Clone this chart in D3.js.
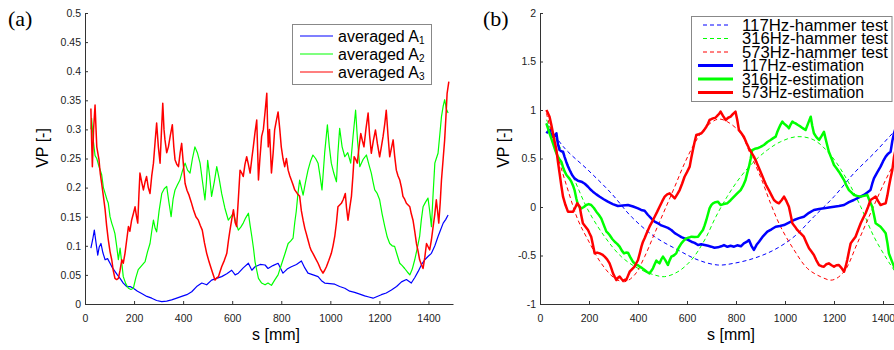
<!DOCTYPE html>
<html>
<head>
<meta charset="utf-8">
<script src="https://cdn.jsdelivr.net/npm/d3@7"></script>
<style>
  body { margin: 0; background: #fff; }
  svg { display: block; font-family: "Liberation Sans", Arial, sans-serif; }
</style>
</head>
<body>
<div id="chart"></div>
<script>
// panel (a) - averaged VP, [s mm, VP]
const avgA1 = [[24,0.096],[31,0.11],[38,0.127],[45,0.105],[52,0.084],[58,0.098],[65,0.104],[73,0.088],[82,0.076],[92,0.078],[102,0.07],[112,0.062],[122,0.056],[132,0.05],[143,0.044],[156,0.036],[170,0.03],[184,0.03],[197,0.027],[214,0.022],[231,0.018],[252,0.013],[272,0.01],[292,0.006],[313,0.004],[333,0.005],[353,0.007],[374,0.01],[394,0.013],[415,0.016],[435,0.021],[455,0.03],[476,0.036],[496,0.033],[516,0.041],[536,0.044],[557,0.047],[578,0.052],[598,0.058],[612,0.05],[625,0.053],[645,0.062],[666,0.07],[680,0.058],[693,0.064],[714,0.068],[734,0.067],[746,0.061],[766,0.066],[787,0.07],[807,0.053],[824,0.06],[841,0.064],[862,0.068],[882,0.074],[896,0.062],[909,0.053],[930,0.05],[950,0.047],[964,0.04],[977,0.036],[998,0.035],[1018,0.034],[1038,0.03],[1059,0.027],[1079,0.022],[1099,0.02],[1120,0.017],[1140,0.014],[1157,0.012],[1174,0.01],[1191,0.013],[1208,0.016],[1228,0.019],[1249,0.024],[1270,0.03],[1290,0.038],[1310,0.042],[1330,0.036],[1345,0.046],[1358,0.056],[1372,0.068],[1385,0.076],[1399,0.082],[1412,0.087],[1426,0.1],[1439,0.116],[1450,0.128],[1460,0.139],[1470,0.145],[1480,0.153]];
const avgA2 = [[24,0.3],[27,0.319],[34,0.28],[41,0.255],[48,0.25],[58,0.235],[68,0.222],[75,0.2],[82,0.19],[89,0.18],[95,0.173],[102,0.15],[109,0.139],[116,0.13],[122,0.121],[129,0.1],[136,0.076],[143,0.096],[150,0.07],[156,0.047],[166,0.035],[177,0.027],[187,0.025],[197,0.027],[207,0.045],[217,0.059],[231,0.066],[245,0.073],[255,0.09],[265,0.104],[272,0.125],[279,0.144],[286,0.13],[292,0.124],[302,0.16],[313,0.19],[323,0.198],[333,0.202],[342,0.175],[351,0.15],[359,0.18],[367,0.196],[377,0.205],[387,0.213],[398,0.23],[408,0.242],[418,0.23],[428,0.225],[438,0.25],[448,0.27],[458,0.26],[469,0.242],[479,0.21],[489,0.179],[495,0.21],[500,0.247],[508,0.22],[516,0.185],[527,0.21],[537,0.236],[547,0.215],[557,0.19],[570,0.165],[584,0.144],[595,0.15],[605,0.156],[615,0.14],[625,0.127],[635,0.132],[645,0.139],[655,0.148],[666,0.156],[673,0.135],[680,0.116],[687,0.095],[693,0.073],[700,0.058],[707,0.044],[720,0.036],[734,0.033],[746,0.036],[760,0.032],[773,0.041],[787,0.05],[800,0.067],[814,0.085],[828,0.104],[838,0.108],[848,0.113],[855,0.14],[861,0.159],[868,0.19],[875,0.213],[882,0.2],[889,0.187],[899,0.21],[909,0.23],[919,0.245],[929,0.256],[940,0.25],[950,0.242],[958,0.22],[966,0.196],[977,0.26],[988,0.308],[996,0.27],[1004,0.242],[1014,0.225],[1025,0.21],[1031,0.26],[1038,0.302],[1048,0.27],[1059,0.253],[1071,0.26],[1083,0.242],[1093,0.29],[1103,0.333],[1111,0.28],[1120,0.236],[1133,0.248],[1147,0.256],[1157,0.24],[1167,0.225],[1174,0.21],[1181,0.196],[1191,0.19],[1201,0.179],[1211,0.155],[1222,0.133],[1232,0.115],[1242,0.104],[1252,0.1],[1262,0.099],[1272,0.085],[1283,0.07],[1293,0.066],[1303,0.061],[1314,0.055],[1324,0.05],[1334,0.06],[1344,0.076],[1354,0.095],[1364,0.116],[1371,0.145],[1378,0.167],[1388,0.175],[1398,0.182],[1405,0.16],[1412,0.133],[1419,0.19],[1426,0.242],[1432,0.25],[1439,0.259],[1446,0.29],[1453,0.322],[1460,0.34],[1466,0.351],[1473,0.335],[1480,0.328]];
const avgA3 = [[24,0.336],[27,0.28],[30,0.236],[35,0.3],[41,0.342],[45,0.3],[48,0.27],[52,0.26],[57,0.248],[62,0.225],[68,0.207],[75,0.185],[82,0.162],[88,0.135],[95,0.11],[102,0.09],[109,0.076],[115,0.058],[122,0.044],[129,0.042],[136,0.044],[143,0.058],[150,0.076],[156,0.07],[163,0.087],[170,0.11],[177,0.133],[183,0.125],[190,0.144],[197,0.155],[204,0.167],[210,0.15],[215,0.139],[220,0.19],[224,0.225],[231,0.21],[238,0.196],[245,0.21],[251,0.219],[258,0.2],[265,0.19],[272,0.22],[279,0.242],[286,0.28],[292,0.311],[299,0.27],[306,0.242],[312,0.3],[317,0.345],[322,0.3],[326,0.282],[333,0.26],[340,0.27],[348,0.29],[356,0.308],[362,0.27],[367,0.248],[374,0.24],[381,0.236],[388,0.26],[394,0.276],[401,0.24],[408,0.207],[416,0.195],[424,0.187],[433,0.175],[442,0.162],[452,0.15],[462,0.144],[470,0.135],[478,0.127],[487,0.105],[496,0.087],[506,0.072],[516,0.059],[523,0.05],[530,0.041],[537,0.045],[544,0.047],[550,0.055],[557,0.064],[568,0.075],[578,0.087],[585,0.11],[591,0.127],[598,0.145],[605,0.162],[612,0.14],[618,0.133],[625,0.18],[632,0.23],[639,0.225],[645,0.219],[652,0.24],[659,0.253],[666,0.24],[673,0.225],[680,0.25],[686,0.27],[693,0.295],[700,0.316],[704,0.26],[707,0.213],[713,0.25],[720,0.288],[727,0.3],[734,0.33],[741,0.362],[744,0.31],[747,0.27],[752,0.3],[760,0.225],[767,0.26],[773,0.299],[780,0.315],[787,0.33],[794,0.3],[800,0.27],[807,0.25],[814,0.236],[821,0.25],[828,0.23],[835,0.22],[841,0.213],[848,0.205],[855,0.196],[865,0.19],[875,0.185],[882,0.16],[889,0.144],[896,0.13],[902,0.121],[909,0.11],[916,0.099],[922,0.092],[929,0.087],[940,0.078],[950,0.07],[960,0.06],[970,0.053],[977,0.058],[984,0.064],[994,0.075],[1004,0.087],[1011,0.1],[1018,0.116],[1025,0.14],[1031,0.167],[1038,0.17],[1045,0.173],[1053,0.18],[1061,0.19],[1066,0.165],[1072,0.144],[1079,0.165],[1086,0.185],[1092,0.22],[1097,0.253],[1104,0.248],[1110,0.242],[1117,0.27],[1124,0.293],[1131,0.28],[1137,0.27],[1145,0.3],[1154,0.328],[1160,0.29],[1167,0.259],[1175,0.28],[1184,0.299],[1192,0.275],[1201,0.253],[1208,0.27],[1215,0.288],[1222,0.31],[1228,0.333],[1235,0.29],[1242,0.253],[1249,0.268],[1256,0.282],[1262,0.255],[1269,0.23],[1276,0.22],[1283,0.213],[1290,0.2],[1296,0.185],[1303,0.18],[1310,0.173],[1317,0.17],[1324,0.167],[1330,0.155],[1337,0.144],[1344,0.125],[1351,0.104],[1358,0.09],[1364,0.076],[1371,0.068],[1378,0.061],[1385,0.08],[1392,0.104],[1399,0.098],[1405,0.093],[1412,0.11],[1419,0.133],[1426,0.155],[1432,0.179],[1437,0.16],[1442,0.139],[1448,0.175],[1453,0.213],[1460,0.25],[1466,0.282],[1471,0.32],[1476,0.362],[1483,0.382]];

// panel (b) - hammer test (dashed) and estimation (solid)
const hammer117 = [[26,0.862],[101,0.605],[196,0.381],[291,0.141],[373,-0.1],[468,-0.306],[563,-0.443],[645,-0.546],[726,-0.598],[792,-0.58],[873,-0.529],[955,-0.443],[1037,-0.306],[1118,-0.1],[1200,0.107],[1281,0.347],[1363,0.553],[1445,0.776],[1470,0.84]];
const hammer316 = [[26,0.9],[87,0.587],[141,0.278],[196,-0.031],[264,-0.306],[332,-0.512],[400,-0.632],[468,-0.701],[509,-0.718],[563,-0.667],[618,-0.546],[672,-0.34],[718,-0.1],[764,0.107],[819,0.312],[873,0.467],[928,0.587],[982,0.673],[1050,0.725],[1118,0.691],[1186,0.536],[1254,0.278],[1309,0.003],[1363,-0.306],[1418,-0.546],[1445,-0.65],[1470,-0.76]];
const hammer573 = [[26,0.966],[73,0.519],[114,0.175],[155,-0.134],[196,-0.34],[250,-0.581],[305,-0.735],[346,-0.77],[386,-0.701],[427,-0.512],[468,-0.271],[509,-0.031],[550,0.209],[590,0.45],[631,0.656],[672,0.811],[726,0.905],[764,0.88],[819,0.76],[860,0.536],[900,0.312],[941,0.038],[982,-0.203],[1037,-0.443],[1091,-0.632],[1145,-0.718],[1193,-0.753],[1241,-0.667],[1295,-0.375],[1349,-0.065],[1404,0.244],[1445,0.45],[1470,0.57]];
const est117 = [[26,0.76],[33,0.78],[39,0.794],[46,0.74],[53,0.725],[60,0.74],[67,0.76],[73,0.65],[80,0.587],[87,0.575],[94,0.57],[100,0.52],[107,0.467],[114,0.42],[121,0.381],[131,0.33],[141,0.295],[155,0.27],[169,0.261],[183,0.24],[196,0.209],[206,0.18],[216,0.158],[230,0.13],[244,0.106],[260,0.08],[277,0.055],[297,0.03],[318,0.01],[338,0.015],[359,0.021],[380,0.005],[400,-0.014],[413,-0.03],[427,-0.038],[440,-0.08],[454,-0.117],[468,-0.15],[482,-0.168],[495,-0.19],[509,-0.203],[522,-0.215],[536,-0.237],[550,-0.27],[563,-0.289],[577,-0.31],[590,-0.323],[604,-0.34],[618,-0.358],[631,-0.37],[645,-0.392],[658,-0.385],[672,-0.392],[686,-0.4],[699,-0.409],[712,-0.42],[726,-0.416],[740,-0.405],[751,-0.392],[765,-0.41],[778,-0.4],[792,-0.409],[805,-0.395],[820,-0.405],[832,-0.375],[843,-0.36],[853,-0.34],[863,-0.4],[873,-0.443],[884,-0.39],[894,-0.358],[911,-0.3],[928,-0.254],[945,-0.23],[962,-0.203],[979,-0.195],[996,-0.186],[1016,-0.16],[1037,-0.134],[1057,-0.115],[1077,-0.1],[1098,-0.06],[1118,-0.031],[1139,-0.02],[1159,-0.014],[1179,-0.005],[1200,0.003],[1220,0.01],[1241,0.021],[1261,0.05],[1281,0.072],[1302,0.1],[1322,0.124],[1336,0.15],[1349,0.175],[1356,0.24],[1363,0.295],[1377,0.36],[1390,0.416],[1400,0.47],[1411,0.519],[1421,0.55],[1431,0.57],[1438,0.68],[1445,0.76],[1452,0.82]];
const est316 = [[26,0.862],[39,0.76],[53,0.656],[63,0.58],[73,0.519],[80,0.49],[87,0.467],[94,0.41],[101,0.364],[108,0.33],[114,0.312],[121,0.29],[128,0.261],[135,0.22],[141,0.175],[148,0.09],[155,0.021],[162,0],[169,-0.014],[179,0],[189,0.021],[199,0.03],[209,0.021],[220,-0.01],[230,-0.048],[240,-0.08],[250,-0.117],[261,-0.19],[271,-0.254],[278,-0.27],[284,-0.289],[295,-0.33],[305,-0.358],[315,-0.38],[325,-0.409],[334,-0.45],[343,-0.478],[351,-0.47],[359,-0.471],[369,-0.52],[379,-0.564],[386,-0.58],[393,-0.598],[400,-0.6],[407,-0.615],[417,-0.63],[427,-0.65],[437,-0.67],[447,-0.684],[454,-0.66],[461,-0.632],[468,-0.59],[475,-0.553],[482,-0.57],[488,-0.581],[495,-0.54],[502,-0.512],[512,-0.55],[522,-0.598],[529,-0.55],[536,-0.512],[546,-0.5],[556,-0.478],[566,-0.42],[577,-0.375],[587,-0.345],[597,-0.323],[608,-0.315],[618,-0.306],[631,-0.31],[645,-0.306],[655,-0.27],[665,-0.237],[672,-0.19],[679,-0.134],[686,-0.07],[692,-0.014],[699,0.02],[706,0.038],[716,0.05],[726,0.055],[737,0.021],[750,0.03],[764,0.038],[778,0.07],[792,0.107],[805,0.14],[819,0.175],[829,0.22],[839,0.278],[846,0.35],[853,0.416],[860,0.5],[866,0.587],[877,0.6],[887,0.605],[900,0.62],[914,0.639],[928,0.67],[941,0.691],[952,0.71],[962,0.725],[968,0.77],[975,0.811],[982,0.85],[989,0.88],[996,0.86],[1003,0.845],[1010,0.83],[1016,0.811],[1023,0.85],[1030,0.88],[1036,0.87],[1043,0.862],[1053,0.845],[1064,0.828],[1074,0.81],[1084,0.794],[1094,0.86],[1105,0.931],[1111,0.84],[1118,0.76],[1128,0.72],[1139,0.691],[1149,0.73],[1159,0.776],[1169,0.67],[1179,0.57],[1190,0.5],[1200,0.433],[1210,0.4],[1220,0.364],[1231,0.32],[1241,0.278],[1251,0.22],[1261,0.175],[1271,0.15],[1281,0.124],[1295,0.115],[1309,0.107],[1322,0.115],[1336,0.124],[1346,0.06],[1356,0.003],[1363,-0.08],[1370,-0.168],[1380,-0.185],[1390,-0.203],[1400,-0.235],[1411,-0.271],[1418,-0.37],[1424,-0.478],[1435,-0.55],[1445,-0.615],[1455,-0.68]];
const est573 = [[26,1],[32,0.97],[39,0.931],[46,0.85],[53,0.76],[60,0.67],[67,0.587],[73,0.47],[80,0.347],[87,0.22],[94,0.106],[104,0.02],[114,-0.048],[124,-0.05],[135,-0.048],[143,-0.01],[152,0.038],[162,0.003],[168,-0.08],[175,-0.168],[185,-0.2],[196,-0.237],[202,-0.27],[209,-0.306],[216,-0.39],[223,-0.478],[233,-0.47],[244,-0.478],[254,-0.49],[264,-0.512],[274,-0.54],[284,-0.581],[291,-0.63],[298,-0.684],[305,-0.72],[312,-0.753],[318,-0.73],[325,-0.718],[332,-0.74],[339,-0.76],[346,-0.75],[352,-0.753],[359,-0.71],[366,-0.667],[376,-0.64],[386,-0.615],[393,-0.58],[400,-0.546],[407,-0.48],[414,-0.409],[420,-0.36],[427,-0.323],[437,-0.26],[447,-0.203],[458,-0.15],[468,-0.1],[478,-0.05],[488,0.003],[499,0.06],[509,0.106],[519,0.13],[529,0.141],[540,0.115],[550,0.089],[560,0.13],[570,0.175],[580,0.24],[590,0.312],[600,0.36],[611,0.416],[617,0.5],[624,0.587],[631,0.67],[638,0.742],[648,0.75],[659,0.76],[669,0.79],[679,0.828],[686,0.86],[692,0.897],[699,0.905],[706,0.914],[716,0.92],[726,0.948],[731,0.96],[737,0.983],[747,0.94],[758,0.897],[768,0.92],[778,0.931],[788,0.96],[798,0.983],[805,0.9],[812,0.794],[822,0.76],[832,0.725],[843,0.66],[853,0.605],[863,0.56],[873,0.519],[884,0.46],[894,0.399],[904,0.34],[914,0.278],[924,0.22],[934,0.175],[945,0.12],[955,0.072],[965,0.05],[975,0.038],[986,0.07],[996,0.107],[1006,0.06],[1016,0.003],[1023,-0.08],[1030,-0.168],[1040,-0.2],[1050,-0.237],[1063,-0.27],[1077,-0.306],[1088,-0.37],[1098,-0.426],[1108,-0.46],[1118,-0.495],[1128,-0.55],[1139,-0.598],[1149,-0.61],[1159,-0.615],[1169,-0.59],[1179,-0.581],[1190,-0.6],[1200,-0.615],[1210,-0.6],[1220,-0.598],[1231,-0.63],[1241,-0.667],[1248,-0.61],[1254,-0.546],[1261,-0.46],[1268,-0.375],[1278,-0.34],[1288,-0.306],[1298,-0.24],[1309,-0.168],[1319,-0.115],[1329,-0.065],[1339,0],[1349,0.072],[1360,0.09],[1370,0.107],[1380,0.06],[1390,0.021],[1400,0.03],[1411,0.038],[1418,0.12],[1424,0.209],[1431,0.3],[1438,0.381],[1445,0.519],[1452,0.6]];

const xTicks = [0, 200, 400, 600, 800, 1000, 1200, 1400];
const xTickLabels = ["0", "200", "400", "600", "800", "1000", "1200", "1400"];
const yTicksA = [0, 0.05, 0.1, 0.15, 0.2, 0.25, 0.3, 0.35, 0.4, 0.45, 0.5];
const yTickLabelsA = ["0", "0.05", "0.1", "0.15", "0.2", "0.25", "0.3", "0.35", "0.4", "0.45", "0.5"];
const yTicksB = [-1, -0.5, 0, 0.5, 1, 1.5, 2];
const yTickLabelsB = ["-1", "-0.5", "0", "0.5", "1", "1.5", "2"];

const legendA = ["averaged A", "averaged A", "averaged A"];
const legendASub = ["1", "2", "3"];
const legendB = ["117Hz-hammer test", "316Hz-hammer test", "573Hz-hammer test",
                 "117Hz-estimation", "316Hz-estimation", "573Hz-estimation"];

const BLUE = "#0000ff", GREEN = "#00ff00", RED = "#ff0000";

const svg = d3.select("#chart")
  .append("svg")
  .attr("width", 894)
  .attr("height", 350);

function drawAxes(x, y, yTicks, yLabels, ylabelX, xlabelX) {
  const gx = svg.append("g")
    .attr("transform", "translate(0," + y.range()[0] + ")")
    .call(d3.axisBottom(x).tickValues(xTicks).tickFormat((d, i) => xTickLabels[i])
      .tickSize(-3).tickSizeOuter(0).tickPadding(11));
  const gy = svg.append("g")
    .attr("transform", "translate(" + x.range()[0] + ",0)")
    .call(d3.axisLeft(y).tickValues(yTicks).tickFormat((d, i) => yLabels[i])
      .tickSize(-3).tickSizeOuter(0).tickPadding(4));
  [gx, gy].forEach(g => {
    g.attr("font-family", null).attr("font-size", null);
    g.selectAll("path, line").attr("stroke", "#333");
    g.selectAll("text").attr("fill", "#222").style("font-size", "10.5px");
  });

  svg.append("text")
    .attr("transform", "translate(" + ylabelX + "," + 148 + ")rotate(-90)")
    .attr("text-anchor", "middle")
    .style("font-size", "16px")
    .text("VP [-]");
  svg.append("text")
    .attr("x", xlabelX)
    .attr("y", 340)
    .attr("text-anchor", "middle")
    .style("font-size", "16px")
    .text("s [mm]");
}

// ---- panel (a)
const xA = d3.scaleLinear().domain([0, 1500]).range([85, 453]);
const yA = d3.scaleLinear().domain([0, 0.5]).range([304, 13]);
drawAxes(xA, yA, yTicksA, yTickLabelsA, 48, 276);

const lineA = d3.line().x(d => xA(d[0])).y(d => yA(d[1]));
[[avgA1, BLUE, 1.2], [avgA2, GREEN, 1.2], [avgA3, RED, 1.5]].forEach(([data, c, w]) => {
  svg.append("path")
    .datum(data)
    .attr("d", lineA)
    .attr("fill", "none")
    .attr("stroke", c)
    .attr("stroke-width", w)
    .attr("stroke-linejoin", "round");
});

svg.append("text")
  .attr("x", 8).attr("y", 26)
  .style("font-family", "'Liberation Serif', 'Times New Roman', serif")
  .style("font-size", "22px")
  .text("(a)");

// legend (a)
const legA = svg.append("g");
legA.append("rect")
  .attr("x", 292.5).attr("y", 24.5).attr("width", 139).attr("height", 60)
  .attr("fill", "#fff").attr("stroke", "#888");
legendA.forEach((t, i) => {
  const yy = 36 + i * 18;
  legA.append("line")
    .attr("x1", 300).attr("x2", 333).attr("y1", yy).attr("y2", yy)
    .attr("stroke", [BLUE, GREEN, RED][i]).attr("stroke-width", 1.2);
  const tx = legA.append("text")
    .attr("x", 338).attr("y", yy + 5.5)
    .style("font-size", "16px")
    .text(t);
  tx.append("tspan")
    .attr("dy", 2)
    .style("font-size", "10px")
    .text(legendASub[i]);
});

// ---- panel (b)
const xB = d3.scaleLinear().domain([0, 1500]).range([540, 907.5]);
const yB = d3.scaleLinear().domain([-1, 2]).range([304, 13]);
drawAxes(xB, yB, yTicksB, yTickLabelsB, 509, 731);

const lineB = d3.line().x(d => xB(d[0])).y(d => yB(d[1]));
const smoothB = d3.line().x(d => xB(d[0])).y(d => yB(d[1])).curve(d3.curveCatmullRom);

[[hammer117, BLUE], [hammer316, GREEN], [hammer573, RED]].forEach(([data, c]) => {
  svg.append("path")
    .datum(data)
    .attr("d", smoothB)
    .attr("fill", "none")
    .attr("stroke", c)
    .attr("stroke-width", 1)
    .attr("stroke-dasharray", "4,3");
});
[[est117, BLUE], [est316, GREEN], [est573, RED]].forEach(([data, c]) => {
  svg.append("path")
    .datum(data)
    .attr("d", lineB)
    .attr("fill", "none")
    .attr("stroke", c)
    .attr("stroke-width", 2.5)
    .attr("stroke-linejoin", "round");
});

svg.append("text")
  .attr("x", 483).attr("y", 26)
  .style("font-family", "'Liberation Serif', 'Times New Roman', serif")
  .style("font-size", "22px")
  .text("(b)");

// legend (b) - rows sit tight, as in the original figure
const legB = svg.append("g");
legB.append("rect")
  .attr("x", 691.5).attr("y", 16.5).attr("width", 200.5).attr("height", 85)
  .attr("fill", "#fff").attr("stroke", "#888");
legendB.forEach((t, i) => {
  const yy = 25 + i * 13.5;
  const dashed = i < 3;
  legB.append("line")
    .attr("x1", dashed ? 703 : 698).attr("x2", dashed ? 731 : 733)
    .attr("y1", yy).attr("y2", yy)
    .attr("stroke", [BLUE, GREEN, RED][i % 3])
    .attr("stroke-width", dashed ? 1 : 3)
    .attr("stroke-dasharray", dashed ? "4,3" : null);
  legB.append("text")
    .attr("x", 742).attr("y", yy + 5.5)
    .style("font-size", "16px")
    .attr("textLength", i < 3 ? 146 : 122)
    .attr("lengthAdjust", "spacingAndGlyphs")
    .text(t);
});
</script>
</body>
</html>
